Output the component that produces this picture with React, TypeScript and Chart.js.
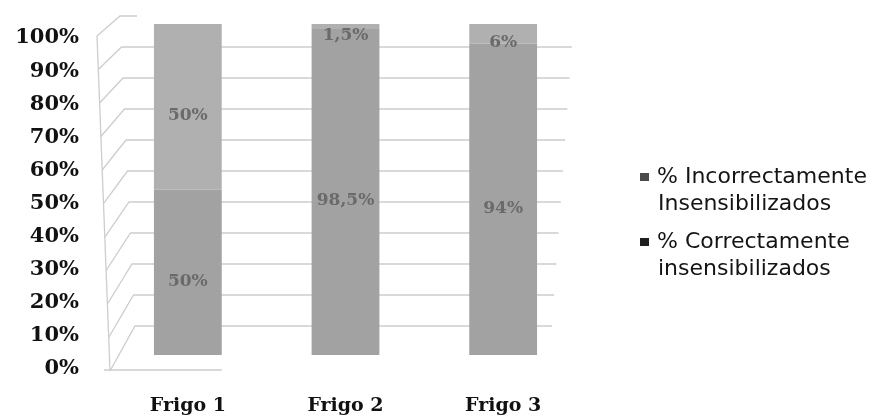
import React, { useEffect, useRef } from 'react';
import { Chart, registerables } from 'chart.js';

Chart.register(...registerables);

// Stunning results per cold store (percent of animals)
const categories = ['Frigo 1', 'Frigo 2', 'Frigo 3'];
const correctos = [50, 98.5, 94];
const incorrectos = [50, 1.5, 6];
const seriesNames = ['% Correctamente insensibilizados', '% Incorrectamente Insensibilizados'];
const legendLines = [
  ['% Incorrectamente', 'Insensibilizados'],
  ['% Correctamente', 'insensibilizados'],
];
const yTickValues = [0, 10, 20, 30, 40, 50, 60, 70, 80, 90, 100];

const COLOR_CORRECT = '#a2a2a2';
const COLOR_INCORRECT = '#b0b0b0';
const SWATCHES = ['#4a4a4a', '#1f1f1f'];
const GRID = '#cdcdcd';
const SERIF = '"DejaVu Serif", serif';
const SANS = '"DejaVu Sans", sans-serif';

const fmt = (v: number) => String(v).replace('.', ',') + '%';

// Left wall, back wall gridlines and floor edge drawn in a simple perspective
const wallsPlugin = {
  id: 'walls',
  beforeDatasetsDraw(chart: any) {
    const { ctx, chartArea } = chart;
    const { left, right, top, bottom } = chartArea;
    const ys = chart.scales.y;
    const span = bottom - top;
    const frontOf = (v: number) => {
      const p = ys.getPixelForValue(v);
      const f = (bottom - p) / span;
      return { x: left + 1 - f * 13, y: bottom + 16 - (bottom - p) * 1.012 };
    };
    const backOf = (v: number) => {
      const p = ys.getPixelForValue(v);
      const f = (bottom - p) / span;
      return { x: left + 26 - f * 15, y: bottom - 29 - (bottom - p) * 0.9366, end: right - 8 - (1 - f) * 22 };
    };
    ctx.save();
    ctx.strokeStyle = GRID;
    ctx.lineWidth = 1.3;
    yTickValues.forEach((v) => {
      const a = frontOf(v);
      const b = backOf(v);
      ctx.beginPath();
      ctx.moveTo(a.x, a.y);
      ctx.lineTo(b.x, b.y);
      ctx.lineTo(v === 100 ? b.x + 17 : b.end, b.y);
      ctx.stroke();
    });
    // front edge of the left wall
    const f0 = frontOf(0);
    const f1 = frontOf(100);
    ctx.beginPath();
    ctx.moveTo(f1.x, f1.y);
    ctx.lineTo(f0.x, f0.y);
    ctx.stroke();
    // floor front edge
    const first = chart.getDatasetMeta(0).data[0] as any;
    ctx.beginPath();
    ctx.moveTo(f0.x - 6, f0.y - 1);
    ctx.lineTo(first.x + first.width / 2, f0.y - 1);
    ctx.stroke();
    ctx.restore();
  },
};

// Value labels inside each bar segment
const valueLabelPlugin = {
  id: 'valueLabels',
  afterDatasetsDraw(chart: any) {
    const { ctx } = chart;
    ctx.save();
    ctx.font = `bold 17px ${SERIF}`;
    ctx.fillStyle = '#6a6a6a';
    ctx.textAlign = 'center';
    ctx.textBaseline = 'middle';
    chart.data.datasets.forEach((ds: any, i: number) => {
      const meta = chart.getDatasetMeta(i);
      meta.data.forEach((el: any, j: number) => {
        const { x, y, base } = el.getProps(['x', 'y', 'base'], true);
        ctx.fillText(fmt(ds.data[j]), x, (y + base) / 2 + 9);
      });
    });
    ctx.restore();
  },
};

// Two-line legend on the right, top series first
const sideLegendPlugin = {
  id: 'sideLegend',
  afterDraw(chart: any) {
    const { ctx, chartArea } = chart;
    const x0 = chartArea.right + 58;
    const y0 = chartArea.top + 153;
    ctx.save();
    ctx.font = `22px ${SANS}`;
    ctx.textBaseline = 'middle';
    ctx.textAlign = 'left';
    legendLines.forEach((lines, i) => {
      const yItem = y0 + i * 65;
      ctx.fillStyle = SWATCHES[i];
      ctx.fillRect(x0, yItem - 4, 9, 8);
      ctx.fillStyle = '#141414';
      lines.forEach((t, k) => {
        ctx.fillText(t, x0 + (k === 0 ? 17 : 18), yItem + k * 27);
      });
    });
    ctx.restore();
  },
};

export default function App() {
  const ref = useRef<HTMLCanvasElement>(null);

  useEffect(() => {
    if (!ref.current) return;
    const chart = new Chart(ref.current, {
      type: 'bar',
      data: {
        labels: categories,
        datasets: [
          {
            label: seriesNames[0],
            data: correctos,
            backgroundColor: COLOR_CORRECT,
            borderWidth: 0,
            barPercentage: 0.43,
            categoryPercentage: 1,
          },
          {
            label: seriesNames[1],
            data: incorrectos,
            backgroundColor: COLOR_INCORRECT,
            borderWidth: 0,
            barPercentage: 0.43,
            categoryPercentage: 1,
          },
        ],
      },
      options: {
        responsive: false,
        animation: false,
        layout: { padding: { top: 24, right: 293, left: 0, bottom: 0 } },
        plugins: {
          legend: { display: false },
          tooltip: { enabled: false },
        },
        scales: {
          x: {
            stacked: true,
            grid: { display: false, drawTicks: false },
            border: { display: false },
            ticks: {
              padding: 40,
              color: '#111',
              font: { family: SERIF, size: 19, weight: 'bold' },
            },
            afterFit: (s: any) => {
              s.height = 61;
              s.paddingLeft = 0;
              s.paddingRight = 0;
            },
          },
          y: {
            stacked: true,
            min: 0,
            max: 100,
            grid: { display: false, drawTicks: false },
            border: { display: false },
            afterBuildTicks: (s: any) => {
              s.ticks = yTickValues.map((v) => ({ value: v }));
            },
            ticks: {
              padding: 30,
              labelOffset: 14,
              color: '#111',
              font: { family: SERIF, size: 21, weight: 'bold' },
              callback: (v: any) => v + '%',
            },
            afterFit: (s: any) => {
              s.width = 109;
              s.paddingTop = 0;
              s.paddingBottom = 0;
            },
          },
        },
      },
      plugins: [wallsPlugin, valueLabelPlugin, sideLegendPlugin],
    });
    return () => chart.destroy();
  }, []);

  return (
    <div style={{ position: 'fixed', left: 0, top: 0, width: 875, height: 416, background: '#fff' }}>
      <canvas ref={ref} width={875} height={416} style={{ display: 'block' }} />
    </div>
  );
}
